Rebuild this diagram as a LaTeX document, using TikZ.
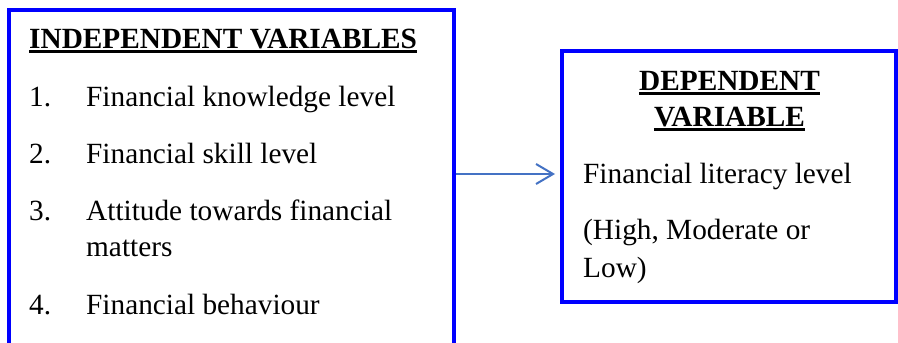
\documentclass[tikz,border=0pt]{standalone}
\usepackage{fontspec}
\setmainfont{Liberation Serif}
\usetikzlibrary{arrows.meta}
\definecolor{boxblue}{RGB}{0,0,255}
\definecolor{arrowblue}{RGB}{68,114,196}
\begin{document}
\begin{tikzpicture}[x=1pt,y=-1pt,
  frame/.style={draw=boxblue,line width=4pt,rectangle,inner sep=0pt},
  txt/.style={inner sep=0pt,anchor=base west,font=\fontsize{29.3}{36}\selectfont},
  head/.style={inner sep=0pt,anchor=base,font=\fontsize{29.3}{36}\selectfont\bfseries},
  uline/.style={line width=3pt}]
\clip (0,0) rectangle (898,343);
\fill[white] (0,0) rectangle (898,343);
% boxes
\node[frame,minimum width=445.5pt,minimum height=390pt] (lbox) at (231.25,204.5) {};
\node[frame,minimum width=334pt,minimum height=251pt] (rbox) at (729,176.5) {};
% left box text
\node[head,anchor=base west] (h1) at (29,48.3) {INDEPENDENT VARIABLES};
\draw[uline] ([yshift=-3.4pt]h1.base west) -- ([yshift=-3.4pt]h1.base east);
\node[txt] (n1) at (29,106) {1.};
\node[txt] (t1) at (86,106) {Financial knowledge level};
\node[txt] (n2) at (29,163) {2.};
\node[txt] (t2) at (86,163) {Financial skill level};
\node[txt] (n3) at (29,220) {3.};
\node[txt] (t3) at (86,220) {Attitude towards financial};
\node[txt] (t3b) at (86,256) {matters};
\node[txt] (n4) at (29,314) {4.};
\node[txt] (t4) at (86,314) {Financial behaviour};
% right box text
\node[head] (h2) at (729.5,90) {DEPENDENT};
\draw[uline] ([yshift=-3.5pt]h2.base west) -- ([yshift=-3.5pt]h2.base east);
\node[head] (h3) at (729.5,126) {VARIABLE};
\draw[uline] ([yshift=-3.5pt]h3.base west) -- ([yshift=-3.5pt]h3.base east);
\node[txt] (r1) at (583,183) {Financial literacy level};
\node[txt] (r2) at (583,239) {(High, Moderate or};
\node[txt] (r3) at (583,277) {Low)};
% arrow
\draw[arrowblue,line width=2pt,-{Straight Barb[length=17pt,width=20pt,line width=2pt]},shorten >=5pt]
  ([yshift=2.5pt]lbox.east |- rbox.west) -- ([yshift=2.5pt]rbox.west);
\end{tikzpicture}
\end{document}
